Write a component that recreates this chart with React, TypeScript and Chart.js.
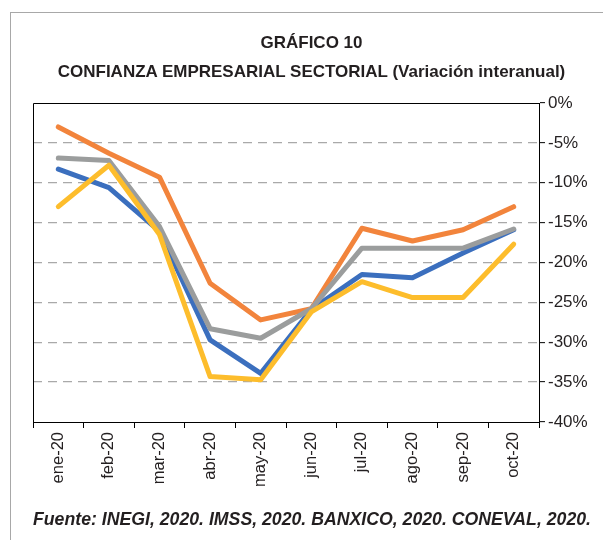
import React, { useEffect, useRef } from "react";
import { Chart, registerables } from "chart.js";

Chart.register(...registerables);

const categories = ["ene-20", "feb-20", "mar-20", "abr-20", "may-20", "jun-20", "jul-20", "ago-20", "sep-20", "oct-20"];
const serieNaranja = [-3.0, -6.3, -9.3, -22.6, -27.2, -25.8, -15.7, -17.3, -15.9, -13.0];
const serieAzul = [-8.3, -10.6, -16.1, -29.7, -33.9, -25.9, -21.5, -21.9, -18.8, -15.9];
const serieGris = [-6.9, -7.2, -15.5, -28.3, -29.5, -25.8, -18.2, -18.2, -18.2, -15.8];
const serieAmarilla = [-13.0, -7.8, -16.5, -34.3, -34.7, -26.2, -22.4, -24.4, -24.4, -17.7];
const yMin = -40;
const yMax = 0;
const yStep = 5;

const titulo1 = "GRÁFICO 10";
const titulo2 = "CONFIANZA EMPRESARIAL SECTORIAL (Variación interanual)";
const fuente = "Fuente: INEGI, 2020. IMSS, 2020. BANXICO, 2020. CONEVAL, 2020.";

const FONT = "'Liberation Sans', Arial, Helvetica, sans-serif";

const frameBorderPlugin = {
  id: "frameBorder",
  beforeDatasetsDraw(chart: any) {
    const { ctx, chartArea } = chart;
    ctx.save();
    ctx.strokeStyle = "#000";
    ctx.lineWidth = 1;
    ctx.beginPath();
    ctx.moveTo(chartArea.left + 0.5, chartArea.bottom);
    ctx.lineTo(chartArea.left + 0.5, chartArea.top + 0.5);
    ctx.lineTo(chartArea.right, chartArea.top + 0.5);
    ctx.stroke();
    ctx.restore();
  },
};

export default function App() {
  const canvasRef = useRef<HTMLCanvasElement | null>(null);

  useEffect(() => {
    if (!canvasRef.current) return;
    const common = {
      borderWidth: 5,
      pointRadius: 0,
      tension: 0,
      borderCapStyle: "round",
      borderJoinStyle: "round",
      fill: false,
    };
    const chart = new Chart(canvasRef.current, {
      type: "line",
      data: {
        labels: categories,
        datasets: [
          { ...common, label: "Amarilla", data: serieAmarilla, borderColor: "#fdbd2c" },
          { ...common, label: "Gris", data: serieGris, borderColor: "#9b9d9d" },
          { ...common, label: "Naranja", data: serieNaranja, borderColor: "#f2843c" },
          { ...common, label: "Azul", data: serieAzul, borderColor: "#3b6fbe" },
        ] as any,
      },
      options: {
        animation: false,
        responsive: false,
        maintainAspectRatio: false,
        layout: { padding: { left: 33, top: 103, right: 0, bottom: 48 } },
        plugins: {
          legend: { display: false },
          tooltip: { enabled: false },
          title: { display: false },
        },
        scales: {
          x: {
            type: "category",
            offset: true,
            grid: {
              offset: true,
              drawOnChartArea: false,
              drawTicks: true,
              tickLength: 6,
              color: "#000",
              lineWidth: 1,
            },
            border: { display: true, color: "#000", width: 1 },
            ticks: {
              autoSkip: false,
              maxRotation: 90,
              minRotation: 90,
              padding: 4,
              color: "#231f20",
              font: { family: FONT, size: 16.5 },
            },
            afterFit(scale: any) {
              scale.height = 70;
            },
          },
          y: {
            position: "right",
            min: yMin,
            max: yMax,
            ticks: {
              stepSize: yStep,
              padding: 3,
              color: "#231f20",
              font: { family: FONT, size: 17 },
              callback: (v: any) => `${v}%`,
            },
            grid: {
              color: (ctx: any) =>
                ctx.tick && (ctx.tick.value === yMin || ctx.tick.value === yMax) ? "rgba(0,0,0,0)" : "#a9a9a9",
              lineWidth: 1.3,
              drawTicks: true,
              tickLength: 6,
              tickColor: "#000",
              tickWidth: 1,
              tickBorderDash: [],
            },
            border: { display: true, color: "#000", width: 1, dash: [9, 6] },
            afterFit(scale: any) {
              scale.width = 64;
            },
          },
        },
      } as any,
      plugins: [frameBorderPlugin],
    });
    return () => chart.destroy();
  }, []);

  return (
    <div style={{ position: "absolute", left: 0, top: 0, width: 603, height: 540, background: "#fff", overflow: "hidden" }}>
      <div
        style={{
          position: "absolute",
          left: 10,
          top: 12,
          width: 700,
          height: 700,
          borderLeft: "1.5px solid #a8a8a8",
          borderTop: "1.5px solid #a8a8a8",
        }}
      />
      <canvas ref={canvasRef} width={603} height={540} style={{ position: "absolute", left: 0, top: 0, display: "block" }} />
      <div
        style={{
          position: "absolute",
          left: 0,
          width: 603,
          top: 32,
          textAlign: "center",
          fontFamily: FONT,
          fontWeight: "bold",
          fontSize: 17,
          lineHeight: "22px",
          color: "#231f20",
          paddingLeft: 20,
          boxSizing: "border-box",
        }}
      >
        {titulo1}
      </div>
      <div
        style={{
          position: "absolute",
          left: 0,
          width: 603,
          top: 61,
          textAlign: "center",
          fontFamily: FONT,
          fontWeight: "bold",
          fontSize: 17,
          lineHeight: "22px",
          color: "#231f20",
          paddingLeft: 20,
          boxSizing: "border-box",
          whiteSpace: "nowrap",
        }}
      >
        {titulo2}
      </div>
      <div
        style={{
          position: "absolute",
          left: 33,
          top: 508,
          fontFamily: FONT,
          fontWeight: "bold",
          fontStyle: "italic",
          fontSize: 17.7,
          lineHeight: "22px",
          color: "#231f20",
          whiteSpace: "nowrap",
        }}
      >
        {fuente}
      </div>
    </div>
  );
}
